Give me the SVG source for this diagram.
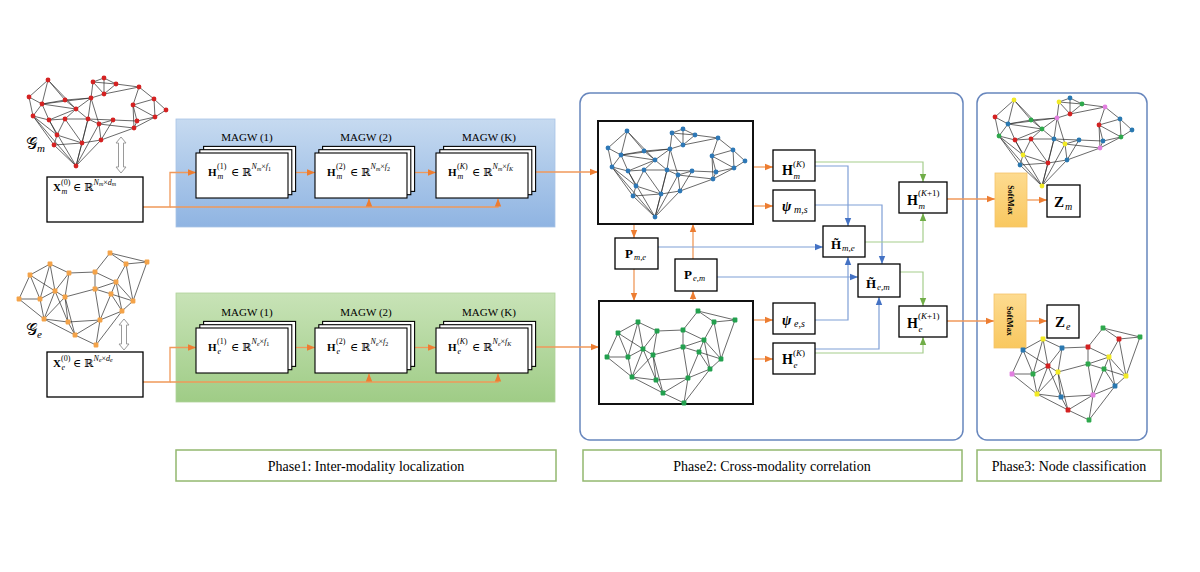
<svg xmlns="http://www.w3.org/2000/svg" xmlns:xlink="http://www.w3.org/1999/xlink" width="1200" height="572" viewBox="0 0 1200 572">
<style>
.t{font-family:"Liberation Serif","DejaVu Serif",serif;fill:#000}
.b{font-weight:bold}
.i{font-style:italic}
.box{fill:#fff;stroke:#000;stroke-width:1.3}
.gbox{fill:#fff;stroke:#111;stroke-width:2}
.stk{fill:#fff;stroke:#000;stroke-width:1.1}
.edge{fill:none;stroke:#2a2a2a;stroke-width:0.7}
.co{fill:none;stroke:#f0995a;stroke-width:1.3;marker-end:url(#aO)}
.cb{fill:none;stroke:#7f9fd6;stroke-width:1.2;marker-end:url(#aB)}
.cg{fill:none;stroke:#a5cd8c;stroke-width:1.2;marker-end:url(#aG)}
.panel{fill:none;stroke:#6786bd;stroke-width:1.5}
.phase{fill:#fff;stroke:#93b86f;stroke-width:1.5}
.ny{fill:#f2ea25}.nr{fill:#d42222}.nb{fill:#2a78b0}.ng{fill:#2ea84c}.nv{fill:#e27fe0}
.dbl{fill:#fff;stroke:#9a9a9a;stroke-width:1}
</style>
<defs>
<linearGradient id="gBlue" x1="0" y1="0" x2="0" y2="1"><stop offset="0" stop-color="#c6daf0"/><stop offset="1" stop-color="#8fb4e2"/></linearGradient>
<linearGradient id="gGreen" x1="0" y1="0" x2="0" y2="1"><stop offset="0" stop-color="#c8e3b7"/><stop offset="1" stop-color="#9fcc86"/></linearGradient>
<linearGradient id="gSoft" x1="0" y1="0" x2="0" y2="1"><stop offset="0" stop-color="#fddb90"/><stop offset="1" stop-color="#f9c860"/></linearGradient>
<marker id="aO" viewBox="0 0 10 10" refX="10" refY="5" markerWidth="8" markerHeight="8" markerUnits="userSpaceOnUse" orient="auto"><path d="M0 1L10 5L0 9z" fill="#ed7d31"/></marker>
<marker id="aB" viewBox="0 0 10 10" refX="10" refY="5" markerWidth="8" markerHeight="8" markerUnits="userSpaceOnUse" orient="auto"><path d="M0 1L10 5L0 9z" fill="#4472c4"/></marker>
<marker id="aG" viewBox="0 0 10 10" refX="10" refY="5" markerWidth="8" markerHeight="8" markerUnits="userSpaceOnUse" orient="auto"><path d="M0 1L10 5L0 9z" fill="#70ad47"/></marker>
<path id="edgesM" class="edge" d="M48 80L29 97M48 80L42 104M48 80L65 100M48 80L76 109M29 97L42 104M29 97L33 116M42 104L65 100M42 104L91 98M42 104L33 116M42 104L49 120M42 104L76 109M65 100L76 109M65 100L91 98M76 109L91 98M76 109L88 119M76 109L65 119M76 109L49 120M91 98L93 82M91 98L104 94M91 98L88 119M91 98L99 124M93 82L104 78M93 82L116 84M93 82L104 94M104 78L116 84M104 78L104 94M116 84L104 94M116 84L139 87M104 94L139 87M139 87L154 99M139 87L133 105M154 99L166 110M154 99L133 105M154 99L155 117M166 110L155 117M133 105L155 117M133 105L137 121M133 105L134 128M155 117L137 121M155 117L134 128M137 121L134 128M137 121L113 120M134 128L99 124M134 128L101 140M113 120L99 124M113 120L101 140M113 120L88 119M99 124L88 119M99 124L101 140M99 124L76 166M88 119L65 119M88 119L82 143M88 119L76 166M65 119L49 120M65 119L57 135M65 119L82 143M49 120L33 116M49 120L57 135M49 120L76 166M33 116L57 135M33 116L54 145M33 116L76 166M57 135L54 145M57 135L82 143M54 145L82 143M54 145L76 166M82 143L101 140M82 143L76 166M101 140L76 166"/>
<path id="edgesE" class="edge" d="M50 264L30 275M50 264L69 273M50 264L55 291M50 264L40 299M30 275L19 299M30 275L40 299M30 275L55 291M69 273L95 272M69 273L55 291M69 273L65 297M95 272L110 253M95 272L95 289M95 272L116 282M110 253L126 264M110 253L147 262M126 264L147 262M126 264L116 282M126 264L133 301M147 262L133 301M116 282L95 289M116 282L111 294M116 282L133 301M116 282L122 311M95 289L111 294M95 289L65 297M95 289L100 320M111 294L133 301M111 294L122 311M111 294L100 320M133 301L122 311M122 311L100 320M122 311L96 345M55 291L65 297M55 291L40 299M55 291L44 319M55 291L68 322M65 297L44 319M65 297L68 322M65 297L75 335M40 299L19 299M40 299L44 319M19 299L44 319M44 319L68 322M44 319L75 335M68 322L100 320M68 322L75 335M100 320L75 335M100 320L96 345M75 335L96 345"/>
<g id="nodesM" fill="currentColor">
<circle cx="48" cy="80" r="2.4"/><circle cx="29" cy="97" r="2.4"/><circle cx="42" cy="104" r="2.4"/><circle cx="65" cy="100" r="2.4"/><circle cx="76" cy="109" r="2.4"/><circle cx="91" cy="98" r="2.4"/><circle cx="93" cy="82" r="2.4"/><circle cx="104" cy="78" r="2.4"/><circle cx="116" cy="84" r="2.4"/><circle cx="104" cy="94" r="2.4"/><circle cx="139" cy="87" r="2.4"/><circle cx="154" cy="99" r="2.4"/><circle cx="166" cy="110" r="2.4"/><circle cx="133" cy="105" r="2.4"/><circle cx="155" cy="117" r="2.4"/><circle cx="137" cy="121" r="2.4"/><circle cx="134" cy="128" r="2.4"/><circle cx="113" cy="120" r="2.4"/><circle cx="99" cy="124" r="2.4"/><circle cx="88" cy="119" r="2.4"/><circle cx="65" cy="119" r="2.4"/><circle cx="49" cy="120" r="2.4"/><circle cx="33" cy="116" r="2.4"/><circle cx="57" cy="135" r="2.4"/><circle cx="54" cy="145" r="2.4"/><circle cx="82" cy="143" r="2.4"/><circle cx="101" cy="140" r="2.4"/><circle cx="76" cy="166" r="2.4"/>
</g>
<g id="nodesE" fill="currentColor">
<rect x="47.6" y="261.6" width="4.8" height="4.8" rx="0.8"/><rect x="27.6" y="272.6" width="4.8" height="4.8" rx="0.8"/><rect x="66.6" y="270.6" width="4.8" height="4.8" rx="0.8"/><rect x="92.6" y="269.6" width="4.8" height="4.8" rx="0.8"/><rect x="107.6" y="250.6" width="4.8" height="4.8" rx="0.8"/><rect x="123.6" y="261.6" width="4.8" height="4.8" rx="0.8"/><rect x="144.6" y="259.6" width="4.8" height="4.8" rx="0.8"/><rect x="113.6" y="279.6" width="4.8" height="4.8" rx="0.8"/><rect x="92.6" y="286.6" width="4.8" height="4.8" rx="0.8"/><rect x="108.6" y="291.6" width="4.8" height="4.8" rx="0.8"/><rect x="130.6" y="298.6" width="4.8" height="4.8" rx="0.8"/><rect x="119.6" y="308.6" width="4.8" height="4.8" rx="0.8"/><rect x="52.6" y="288.6" width="4.8" height="4.8" rx="0.8"/><rect x="62.6" y="294.6" width="4.8" height="4.8" rx="0.8"/><rect x="37.6" y="296.6" width="4.8" height="4.8" rx="0.8"/><rect x="16.6" y="296.6" width="4.8" height="4.8" rx="0.8"/><rect x="41.6" y="316.6" width="4.8" height="4.8" rx="0.8"/><rect x="65.6" y="319.6" width="4.8" height="4.8" rx="0.8"/><rect x="97.6" y="317.6" width="4.8" height="4.8" rx="0.8"/><rect x="72.6" y="332.6" width="4.8" height="4.8" rx="0.8"/><rect x="93.6" y="342.6" width="4.8" height="4.8" rx="0.8"/>
</g>
<g id="stack">
<rect class="stk" x="7.6" y="-6.6" width="92" height="45"/>
<rect class="stk" x="3.8" y="-3.3" width="92" height="45"/>
<rect class="stk" x="0" y="0" width="92" height="45"/>
</g>
</defs>
<rect width="1200" height="572" fill="#fff"/>

<!-- Phase 1 panels -->
<rect id="panel-m" x="176" y="119" width="379" height="108" fill="url(#gBlue)" stroke="#a8c3e6" stroke-width="0.8"/>
<rect id="panel-e" x="176" y="293" width="379" height="109" fill="url(#gGreen)" stroke="#b0d39a" stroke-width="0.8"/>
<!-- Phase 2 / 3 panels -->
<rect id="panel-phase2" class="panel" x="580" y="93" width="383" height="347" rx="10"/>
<rect id="panel-phase3" class="panel" x="977" y="93" width="170" height="347" rx="10"/>

<g id="connectors">
<path class="co" d="M143 207H170V172.5H196"/>
<path class="co" d="M170 207H498V198.5"/>
<path class="co" d="M369 207V198.5"/>
<path class="co" d="M296 172.5H315"/>
<path class="co" d="M415 172.5H436"/>
<path class="co" d="M536 172H598"/>
<path class="co" d="M143 382H170V347.5H196"/>
<path class="co" d="M170 382H498V373.5"/>
<path class="co" d="M369 382V373.5"/>
<path class="co" d="M296 347.5H315"/>
<path class="co" d="M415 347.5H436"/>
<path class="co" d="M536 347H599"/>
<path class="co" d="M753 167H773"/>
<path class="co" d="M753 206H773"/>
<path class="co" d="M753 320H773"/>
<path class="co" d="M753 359H773"/>
<path class="co" d="M634 224V238"/>
<path class="co" d="M634 269V301"/>
<path class="co" d="M693 259V224"/>
<path class="co" d="M693 301V291"/>
<path class="co" d="M947 199H995"/>
<path class="co" d="M947 321H994"/>
<path class="co" d="M1027 200H1047"/>
<path class="co" d="M1026 321H1047"/>
<path class="cb" d="M815 166H848V226"/>
<path class="cb" d="M815 205H882V264"/>
<path class="cb" d="M658 247H823"/>
<path class="cb" d="M717 277H858"/>
<path class="cb" d="M815 320H848V257"/>
<path class="cb" d="M815 349H879V297"/>
<path class="cg" d="M815 162H923V182"/>
<path class="cg" d="M865 242H923V213"/>
<path class="cg" d="M900 272H923V306"/>
<path class="cg" d="M815 353H923V337"/>
</g>

<!-- Input graphs -->
<g id="graph-m">
<use xlink:href="#edgesM"/>
<use xlink:href="#nodesM" color="#d42222"/>
<text class="t" x="26" y="149" font-size="16">𝒢<tspan class="i" font-size="11" dy="3">m</tspan></text>
</g>
<g id="graph-e">
<use xlink:href="#edgesE"/>
<use xlink:href="#nodesE" color="#f4a349"/>
<text class="t" x="26" y="335" font-size="16">𝒢<tspan class="i" font-size="11" dy="3">e</tspan></text>
</g>
<g id="link-m"><polygon class="dbl" points="121,137 126,143 123.5,143 123.5,167 126,167 121,173 116,167 118.5,167 118.5,143 116,143"/></g>
<g id="link-e"><polygon class="dbl" points="124,319 129,325 126.5,325 126.5,344 129,344 124,350 119,344 121.5,344 121.5,325 119,325"/></g>

<g id="x-m">
<rect class="box" x="47" y="177" width="96" height="45"/>
<text class="t" font-size="11"><tspan class="b" x="53" y="191">X</tspan><tspan font-size="8" x="61" y="184.5">(0)</tspan><tspan class="i" font-size="8" x="61.5" y="194">m</tspan><tspan x="73" y="191">∈ ℝ</tspan><tspan class="i" font-size="8" dx="0.5" dy="-6.5">N</tspan><tspan class="i" font-size="6" dy="1.5">m</tspan><tspan font-size="8" dy="-1.5">×</tspan><tspan class="i" font-size="8">d</tspan><tspan class="i" font-size="6" dy="1.5">m</tspan></text>
</g>
<g id="x-e">
<rect class="box" x="47" y="352" width="96" height="45"/>
<text class="t" font-size="11"><tspan class="b" x="53" y="367">X</tspan><tspan font-size="8" x="61" y="360.5">(0)</tspan><tspan class="i" font-size="8" x="61.5" y="370">e</tspan><tspan x="73" y="367">∈ ℝ</tspan><tspan class="i" font-size="8" dx="0.5" dy="-6.5">N</tspan><tspan class="i" font-size="6" dy="1.5">e</tspan><tspan font-size="8" dy="-1.5">×</tspan><tspan class="i" font-size="8">d</tspan><tspan class="i" font-size="6" dy="1.5">e</tspan></text>
</g>

<!-- MAGW modality m -->
<g id="magw-m-1">
<text class="t" x="247" y="141" font-size="11" text-anchor="middle">MAGW (1)</text>
<use xlink:href="#stack" x="196" y="153"/>
<text class="t" font-size="11"><tspan class="b" x="208" y="176">H</tspan><tspan font-size="8" x="217" y="169">(1)</tspan><tspan class="i" font-size="8" x="217.5" y="179">m</tspan><tspan x="231" y="176">∈ ℝ</tspan><tspan class="i" font-size="8" dx="0.5" dy="-7">N</tspan><tspan class="i" font-size="6" dy="1.5">m</tspan><tspan font-size="8" dy="-1.5">×</tspan><tspan class="i" font-size="8">f</tspan><tspan font-size="6" dy="1.5">1</tspan></text>
</g>
<g id="magw-m-2">
<text class="t" x="366" y="141" font-size="11" text-anchor="middle">MAGW (2)</text>
<use xlink:href="#stack" x="315" y="153"/>
<text class="t" font-size="11"><tspan class="b" x="327" y="176">H</tspan><tspan font-size="8" x="336" y="169">(2)</tspan><tspan class="i" font-size="8" x="336.5" y="179">m</tspan><tspan x="350" y="176">∈ ℝ</tspan><tspan class="i" font-size="8" dx="0.5" dy="-7">N</tspan><tspan class="i" font-size="6" dy="1.5">m</tspan><tspan font-size="8" dy="-1.5">×</tspan><tspan class="i" font-size="8">f</tspan><tspan font-size="6" dy="1.5">2</tspan></text>
</g>
<g id="magw-m-k">
<text class="t" x="489" y="141" font-size="11" text-anchor="middle">MAGW (K)</text>
<use xlink:href="#stack" x="436" y="153"/>
<text class="t" font-size="11"><tspan class="b" x="448" y="176">H</tspan><tspan font-size="8" x="457" y="169">(<tspan class="i">K</tspan>)</tspan><tspan class="i" font-size="8" x="457.5" y="179">m</tspan><tspan x="472" y="176">∈ ℝ</tspan><tspan class="i" font-size="8" dx="0.5" dy="-7">N</tspan><tspan class="i" font-size="6" dy="1.5">m</tspan><tspan font-size="8" dy="-1.5">×</tspan><tspan class="i" font-size="8">f</tspan><tspan class="i" font-size="6" dy="1.5">K</tspan></text>
</g>

<!-- MAGW modality e -->
<g id="magw-e-1">
<text class="t" x="247" y="316" font-size="11" text-anchor="middle">MAGW (1)</text>
<use xlink:href="#stack" x="196" y="328"/>
<text class="t" font-size="11"><tspan class="b" x="208" y="351">H</tspan><tspan font-size="8" x="217" y="344">(1)</tspan><tspan class="i" font-size="8" x="217.5" y="354">e</tspan><tspan x="231" y="351">∈ ℝ</tspan><tspan class="i" font-size="8" dx="0.5" dy="-7">N</tspan><tspan class="i" font-size="6" dy="1.5">e</tspan><tspan font-size="8" dy="-1.5">×</tspan><tspan class="i" font-size="8">f</tspan><tspan font-size="6" dy="1.5">1</tspan></text>
</g>
<g id="magw-e-2">
<text class="t" x="366" y="316" font-size="11" text-anchor="middle">MAGW (2)</text>
<use xlink:href="#stack" x="315" y="328"/>
<text class="t" font-size="11"><tspan class="b" x="327" y="351">H</tspan><tspan font-size="8" x="336" y="344">(2)</tspan><tspan class="i" font-size="8" x="336.5" y="354">e</tspan><tspan x="350" y="351">∈ ℝ</tspan><tspan class="i" font-size="8" dx="0.5" dy="-7">N</tspan><tspan class="i" font-size="6" dy="1.5">e</tspan><tspan font-size="8" dy="-1.5">×</tspan><tspan class="i" font-size="8">f</tspan><tspan font-size="6" dy="1.5">2</tspan></text>
</g>
<g id="magw-e-k">
<text class="t" x="489" y="316" font-size="11" text-anchor="middle">MAGW (K)</text>
<use xlink:href="#stack" x="436" y="328"/>
<text class="t" font-size="11"><tspan class="b" x="448" y="351">H</tspan><tspan font-size="8" x="457" y="344">(<tspan class="i">K</tspan>)</tspan><tspan class="i" font-size="8" x="457.5" y="354">e</tspan><tspan x="472" y="351">∈ ℝ</tspan><tspan class="i" font-size="8" dx="0.5" dy="-7">N</tspan><tspan class="i" font-size="6" dy="1.5">e</tspan><tspan font-size="8" dy="-1.5">×</tspan><tspan class="i" font-size="8">f</tspan><tspan class="i" font-size="6" dy="1.5">K</tspan></text>
</g>

<!-- Phase 2 -->
<g id="graph-m-box">
<rect class="gbox" x="598" y="121" width="155" height="103"/>
<use xlink:href="#edgesM" transform="translate(579,51)"/>
<use xlink:href="#nodesM" transform="translate(579,51)" color="#2e78b6"/>
</g>
<g id="graph-e-box">
<rect class="gbox" x="599" y="301" width="154" height="103"/>
<use xlink:href="#edgesE" transform="translate(588,58)"/>
<use xlink:href="#nodesE" transform="translate(588,58)" color="#22a04e"/>
</g>
<g id="h-m-k">
<rect class="box" x="773" y="150" width="42" height="31"/>
<text class="t" font-size="14"><tspan class="b" x="782" y="175">H</tspan><tspan font-size="9" x="793" y="167">(<tspan class="i">K</tspan>)</tspan><tspan class="i" font-size="9" x="793.5" y="179">m</tspan></text>
</g>
<g id="psi-m-s">
<rect class="box" x="773" y="190" width="42" height="31"/>
<text class="t" font-size="14"><tspan class="b i" x="782" y="211">ψ</tspan><tspan class="i" font-size="10" x="794" y="213">m,s</tspan></text>
</g>
<g id="p-m-e">
<rect class="box" x="615" y="238" width="43" height="31"/>
<text class="t" font-size="13"><tspan class="b" x="625" y="258">P</tspan><tspan class="i" font-size="8.5" x="634" y="260">m,e</tspan></text>
</g>
<g id="p-e-m">
<rect class="box" x="675" y="259" width="42" height="32"/>
<text class="t" font-size="13"><tspan class="b" x="684" y="279">P</tspan><tspan class="i" font-size="8.5" x="693" y="281">e,m</tspan></text>
</g>
<g id="ht-m-e">
<rect class="box" x="823" y="226" width="42" height="31"/>
<text class="t" font-size="13"><tspan class="b" x="831" y="249">H̃</tspan><tspan class="i" font-size="9" x="842" y="251">m,e</tspan></text>
</g>
<g id="ht-e-m">
<rect class="box" x="858" y="264" width="42" height="33"/>
<text class="t" font-size="13"><tspan class="b" x="866" y="288">H̃</tspan><tspan class="i" font-size="9" x="877" y="290">e,m</tspan></text>
</g>
<g id="h-m-k1">
<rect class="box" x="899" y="182" width="48" height="31"/>
<text class="t" font-size="14"><tspan class="b" x="907" y="205">H</tspan><tspan font-size="9" x="918" y="196">(<tspan class="i">K</tspan>+1)</tspan><tspan class="i" font-size="9" x="918.5" y="209">m</tspan></text>
</g>
<g id="psi-e-s">
<rect class="box" x="773" y="303" width="42" height="31"/>
<text class="t" font-size="14"><tspan class="b i" x="782" y="325">ψ</tspan><tspan class="i" font-size="10" x="794" y="327">e,s</tspan></text>
</g>
<g id="h-e-k">
<rect class="box" x="773" y="343" width="42" height="31"/>
<text class="t" font-size="14"><tspan class="b" x="782" y="364">H</tspan><tspan font-size="9" x="793" y="356">(<tspan class="i">K</tspan>)</tspan><tspan class="i" font-size="9" x="793.5" y="368">e</tspan></text>
</g>
<g id="h-e-k1">
<rect class="box" x="899" y="306" width="48" height="31"/>
<text class="t" font-size="14"><tspan class="b" x="907" y="328">H</tspan><tspan font-size="9" x="918" y="319">(<tspan class="i">K</tspan>+1)</tspan><tspan class="i" font-size="9" x="918.5" y="332">e</tspan></text>
</g>

<!-- Phase 3 -->
<g id="softmax-m">
<rect x="995" y="173" width="32" height="54" fill="url(#gSoft)" stroke="#f5c46a" stroke-width="0.8"/>
<text class="t b" font-size="8" text-anchor="middle" transform="translate(1011,200) rotate(90)" y="3">SoftMax</text>
</g>
<g id="softmax-e">
<rect x="994" y="294" width="32" height="54" fill="url(#gSoft)" stroke="#f5c46a" stroke-width="0.8"/>
<text class="t b" font-size="8" text-anchor="middle" transform="translate(1010,321) rotate(90)" y="3">SoftMax</text>
</g>
<g id="z-m">
<rect class="box" x="1047" y="185" width="33" height="32"/>
<text class="t" font-size="15"><tspan class="b" x="1054" y="207">Z</tspan><tspan class="i" font-size="10" x="1065" y="210">m</tspan></text>
</g>
<g id="z-e">
<rect class="box" x="1047" y="305" width="32" height="33"/>
<text class="t" font-size="15"><tspan class="b" x="1055" y="327">Z</tspan><tspan class="i" font-size="10" x="1066" y="330">e</tspan></text>
</g>
<g id="graph-m-out" transform="translate(966,20)">
<use xlink:href="#edgesM"/>
<circle class="ny" cx="48" cy="80" r="2.4"/><circle class="nr" cx="29" cy="97" r="2.4"/><circle class="nb" cx="42" cy="104" r="2.4"/><circle class="ng" cx="65" cy="100" r="2.4"/><circle class="ng" cx="76" cy="109" r="2.4"/><circle class="nv" cx="91" cy="98" r="2.4"/><circle class="ny" cx="93" cy="82" r="2.4"/><circle class="nb" cx="104" cy="78" r="2.4"/><circle class="ng" cx="116" cy="84" r="2.4"/><circle class="nr" cx="104" cy="94" r="2.4"/><circle class="nv" cx="139" cy="87" r="2.4"/><circle class="nb" cx="154" cy="99" r="2.4"/><circle class="nb" cx="166" cy="110" r="2.4"/><circle class="nr" cx="133" cy="105" r="2.4"/><circle class="ng" cx="155" cy="117" r="2.4"/><circle class="nb" cx="137" cy="121" r="2.4"/><circle class="nv" cx="134" cy="128" r="2.4"/><circle class="nb" cx="113" cy="120" r="2.4"/><circle class="ny" cx="99" cy="124" r="2.4"/><circle class="nb" cx="88" cy="119" r="2.4"/><circle class="nr" cx="65" cy="119" r="2.4"/><circle class="nr" cx="49" cy="120" r="2.4"/><circle class="ng" cx="33" cy="116" r="2.4"/><circle class="ny" cx="57" cy="135" r="2.4"/><circle class="nb" cx="54" cy="145" r="2.4"/><circle class="nr" cx="82" cy="143" r="2.4"/><circle class="nb" cx="101" cy="140" r="2.4"/><circle class="ny" cx="76" cy="166" r="2.4"/>
</g>
<g id="graph-e-out" transform="translate(993,75)">
<use xlink:href="#edgesE"/>
<rect class="ny" x="47.6" y="261.6" width="4.8" height="4.8" rx="0.8"/><rect class="nb" x="27.6" y="272.6" width="4.8" height="4.8" rx="0.8"/><rect class="nb" x="66.6" y="270.6" width="4.8" height="4.8" rx="0.8"/><rect class="nr" x="92.6" y="269.6" width="4.8" height="4.8" rx="0.8"/><rect class="ng" x="107.6" y="250.6" width="4.8" height="4.8" rx="0.8"/><rect class="nr" x="123.6" y="261.6" width="4.8" height="4.8" rx="0.8"/><rect class="ng" x="144.6" y="259.6" width="4.8" height="4.8" rx="0.8"/><rect class="ny" x="113.6" y="279.6" width="4.8" height="4.8" rx="0.8"/><rect class="ng" x="92.6" y="286.6" width="4.8" height="4.8" rx="0.8"/><rect class="ng" x="108.6" y="291.6" width="4.8" height="4.8" rx="0.8"/><rect class="ny" x="130.6" y="298.6" width="4.8" height="4.8" rx="0.8"/><rect class="nb" x="119.6" y="308.6" width="4.8" height="4.8" rx="0.8"/><rect class="nr" x="52.6" y="288.6" width="4.8" height="4.8" rx="0.8"/><rect class="ny" x="62.6" y="294.6" width="4.8" height="4.8" rx="0.8"/><rect class="ng" x="37.6" y="296.6" width="4.8" height="4.8" rx="0.8"/><rect class="nv" x="16.6" y="296.6" width="4.8" height="4.8" rx="0.8"/><rect class="ny" x="41.6" y="316.6" width="4.8" height="4.8" rx="0.8"/><rect class="nb" x="65.6" y="319.6" width="4.8" height="4.8" rx="0.8"/><rect class="nv" x="97.6" y="317.6" width="4.8" height="4.8" rx="0.8"/><rect class="nr" x="72.6" y="332.6" width="4.8" height="4.8" rx="0.8"/><rect class="ng" x="93.6" y="342.6" width="4.8" height="4.8" rx="0.8"/>
</g>

<!-- Phase labels -->
<g id="phase1">
<rect class="phase" x="176" y="450" width="380" height="31"/>
<text class="t" x="366" y="470.5" font-size="14" text-anchor="middle">Phase1: Inter-modality localization</text>
</g>
<g id="phase2">
<rect class="phase" x="583" y="450" width="379" height="31"/>
<text class="t" x="772" y="470.5" font-size="14" text-anchor="middle">Phase2: Cross-modality correlation</text>
</g>
<g id="phase3">
<rect class="phase" x="977" y="450" width="184" height="31"/>
<text class="t" x="1069" y="470.5" font-size="14" text-anchor="middle">Phase3: Node classification</text>
</g>
</svg>
